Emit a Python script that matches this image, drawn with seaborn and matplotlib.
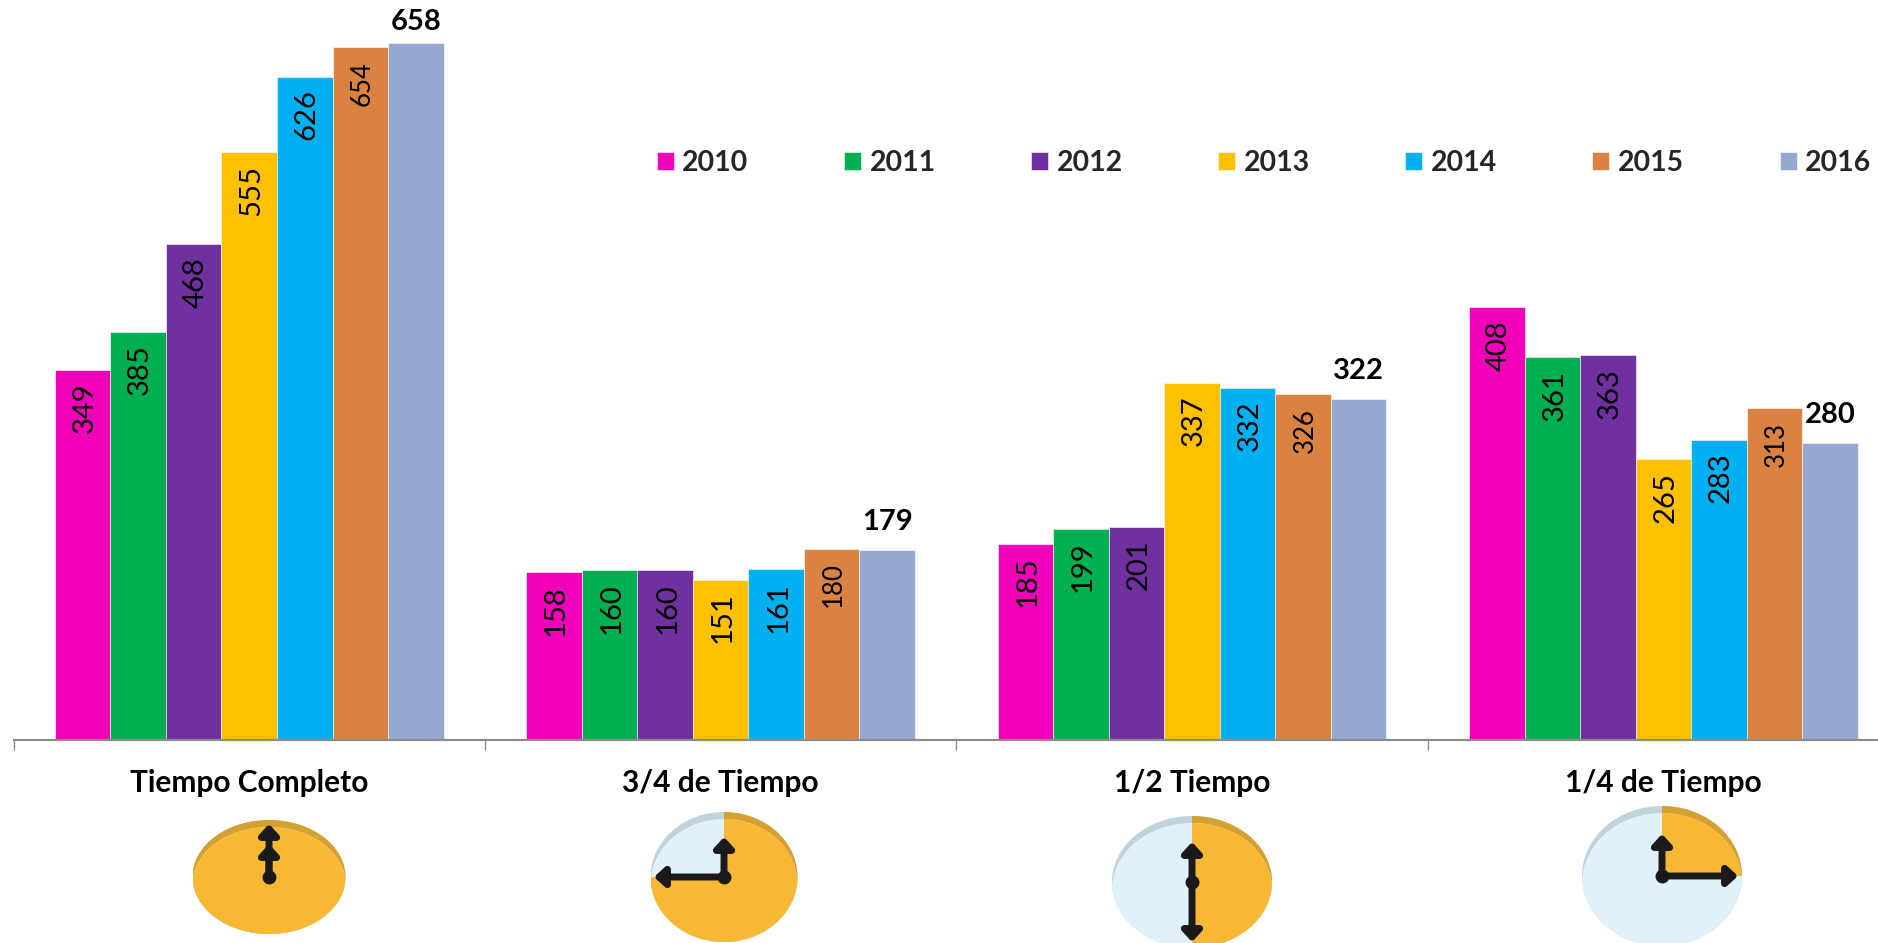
import matplotlib
matplotlib.use('Agg')
import matplotlib.pyplot as plt
from matplotlib.patches import Ellipse, Wedge
import pandas as pd
import seaborn as sns

W, H = 1878, 943

categorias = ['Tiempo Completo', '3/4 de Tiempo', '1/2 Tiempo', '1/4 de Tiempo']
anios = ['2010', '2011', '2012', '2013', '2014', '2015', '2016']
v2010 = [349, 158, 185, 408]
v2011 = [385, 160, 199, 361]
v2012 = [468, 160, 201, 363]
v2013 = [555, 151, 337, 265]
v2014 = [626, 161, 332, 283]
v2015 = [654, 180, 326, 313]
v2016 = [658, 179, 322, 280]
colores = ['#F000B9', '#00B050', '#7030A0', '#FFC000', '#00B0F0', '#DA8240', '#95A9D0']

filas = []
for anio, vals in zip(anios, [v2010, v2011, v2012, v2013, v2014, v2015, v2016]):
    for c, v in zip(categorias, vals):
        filas.append({'categoria': c, 'anio': anio, 'valor': v})
df = pd.DataFrame(filas)

sns.set_theme(style='white')
plt.rcParams['font.family'] = ['Lato', 'DejaVu Sans']

fig = plt.figure(figsize=(W / 100, H / 100), dpi=100, facecolor='white')
base_y = 739.5
izq = 13.5
ax = fig.add_axes([izq / W, 1 - base_y / H, 1 - izq / W, base_y / H])
sns.barplot(data=df, x='categoria', y='valor', hue='anio', order=categorias, hue_order=anios,
            palette=colores, saturation=1, width=0.825, gap=0, edgecolor='white', linewidth=0.4, ax=ax)

ax.set_xlim(-0.5, -0.5 + (W - izq) / 471.4)
ax.set_ylim(0, 698.4)
ax.set_xlabel('')
ax.set_ylabel('')
ax.set_yticks([])
for s in ['top', 'left', 'right']:
    ax.spines[s].set_visible(False)
ax.spines['bottom'].set_color('#8C8C8C')
ax.spines['bottom'].set_linewidth(1.6)
ax.set_xticks([-0.5, 0.5, 1.5, 2.5], minor=True)
ax.tick_params(axis='x', which='minor', bottom=True, length=7.5, width=1, color='#8C8C8C')
ax.tick_params(axis='x', which='major', bottom=False, length=0, pad=21.5)
for t in ax.get_xticklabels():
    t.set_fontweight('bold')
    t.set_fontsize(21.5)
    t.set_color('black')

# etiquetas de valores: 2016 arriba en negrita, las demas giradas dentro de la barra
for anio, cont in zip(anios, ax.containers):
    if anio == '2016':
        textos = ax.bar_label(cont, label_type='edge', padding=20, fontsize=21, fontweight='bold', color='black')
        textos[0].xyann = (0, 15)
    elif anio == '2015':
        textos = ax.bar_label(cont, label_type='edge', padding=-26, fontsize=18.5, rotation=90, color='black')
    else:
        textos = ax.bar_label(cont, label_type='edge', padding=-27.5, fontsize=21, rotation=90, color='black')
    for t in textos:
        t.set_va('center')
        if anio != '2016':
            t.xyann = (1.5, t.xyann[1])

sns.move_legend(ax, 'center left', bbox_to_anchor=(656.5 / W, 1 - 163 / H), bbox_transform=fig.transFigure,
                ncol=7, frameon=False, title=None, prop={'weight': 'bold', 'size': 20.5}, handlelength=0.6,
                handleheight=0.6, handletextpad=0.3, columnspacing=3.35, borderpad=0, borderaxespad=0)


def reloj(cx, cy, rx, ry, t1, t2, manecillas):
    # esfera del reloj, con la parte naranja de t1 a t2 grados
    a = fig.add_axes([(cx - rx) / W, 1 - (cy + ry) / H, 2 * rx / W, 2 * ry / H])
    a.set_xlim(-1, 1)
    a.set_ylim(-1, 1)
    a.axis('off')
    a.patch.set_visible(False)
    a.add_patch(Ellipse((0, 0), 2, 2, fc='#C2D2DC', ec='none'))
    a.add_patch(Wedge((0, 0), 1, t1, t2, fc='#D4A030', ec='none'))
    frente = Ellipse((0, -7 / ry), 2, 2, transform=a.transData)
    claro = Ellipse((0, 0), 2, 2, fc='#E1F1FA', ec='none')
    naranja = Wedge((0, 0), 1, t1, t2, fc='#F8B833', ec='none')
    for p in [claro, naranja]:
        a.add_patch(p)
        p.set_clip_path(frente)
    for dx, dy in manecillas:
        a.annotate('', xy=(dx / rx, dy / ry), xytext=(0, 0), annotation_clip=False,
                   arrowprops=dict(arrowstyle='-|>,head_length=0.6,head_width=0.55', lw=5, color='#1A1A1C',
                                   mutation_scale=10, shrinkA=0, shrinkB=0))
    a.plot([0], [0], 'o', ms=9, color='#1A1A1C', clip_on=False)


reloj(269, 877, 76.5, 57, 0, 360, [(0, 53), (0, 33)])
reloj(724, 877, 73.5, 65, 180, 450, [(0, 40), (-70, 0)])
reloj(1192, 882, 80, 66, -90, 90, [(0, 40), (0, -60)])
reloj(1662, 876, 80, 70, 0, 90, [(0, 42), (76, 0)])

fig.savefig('out.png', dpi=100, facecolor='white')
